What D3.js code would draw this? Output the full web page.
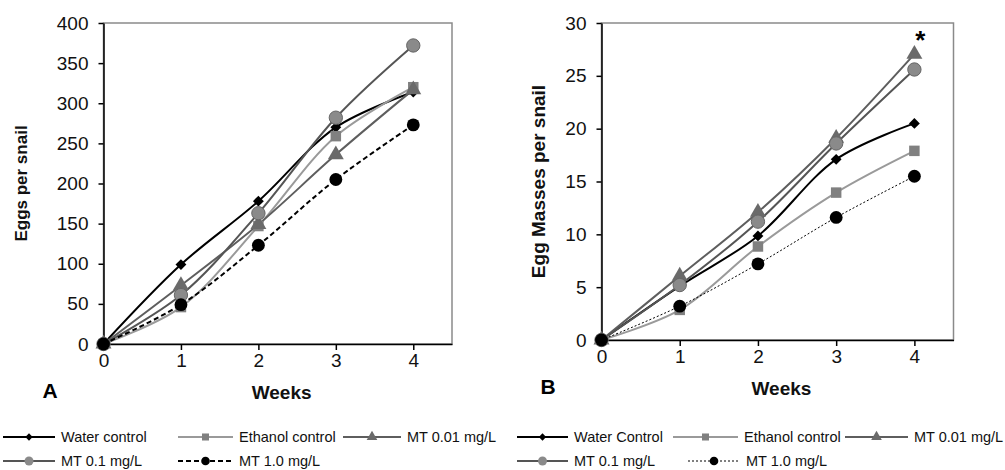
<!DOCTYPE html>
<html>
<head>
<meta charset="utf-8">
<script src="https://cdn.jsdelivr.net/npm/d3@7"></script>
<style>
    body { margin: 0; background: #fff; }
    svg { font-family: "Liberation Sans", Arial, sans-serif; }
    .axis text { font-size: 19px; fill: #111; }
    .axis path, .axis line { stroke: #000; stroke-width: 1.5px; }
    .title { font-weight: bold; fill: #111; }
    .legend text { font-size: 14.5px; fill: #111; }
</style>
</head>
<body>
<div id="chart"></div>
<script>
// data
const weeks = [0, 1, 2, 3, 4];

const eggsWater = [0, 99, 178, 270, 314];
const eggsEthanol = [0, 46, 147, 259, 320];
const eggsMt001 = [0, 73, 149, 236, 317];
const eggsMt01 = [0, 61, 163, 282, 372];
const eggsMt10 = [0, 49, 123, 205, 273];

const massWater = [0, 5.1, 9.85, 17.1, 20.5];
const massEthanol = [0, 2.85, 8.85, 13.95, 17.9];
const massMt001 = [0, 6.05, 12.1, 19.1, 27.05];
const massMt01 = [0, 5.2, 11.2, 18.6, 25.6];
const massMt10 = [0, 3.2, 7.2, 11.6, 15.5];

const yTicksA = [0, 50, 100, 150, 200, 250, 300, 350, 400];
const yTicksB = [0, 5, 10, 15, 20, 25, 30];
const legendA = ["Water control", "Ethanol control", "MT 0.01 mg/L", "MT 0.1 mg/L", "MT 1.0 mg/L"];
const legendB = ["Water Control", "Ethanol control", "MT 0.01 mg/L", "MT 0.1 mg/L", "MT 1.0 mg/L"];

// one style per series, same order in both panels
const styles = [
    { line: "#000", fill: "#000", shape: d3.symbolDiamond2, size: 75 },
    { line: "#9a9a9a", fill: "#808080", shape: d3.symbolSquare, size: 110 },
    { line: "#5e5e5e", fill: "#6a6a6a", shape: d3.symbolTriangle, size: 110 },
    { line: "#555", fill: "#8a8a8a", shape: d3.symbolCircle, size: 140, stroke: "#666" },
    { line: "#000", fill: "#000", shape: d3.symbolCircle, size: 130 }
];

const svg = d3.select("#chart").append("svg")
    .attr("width", 1005)
    .attr("height", 470);

class Panel {
    constructor(_config) {
        this.cfg = _config;
        this.initVis();
    }

    initVis() {
        const vis = this;
        const c = vis.cfg;

        vis.g = svg.append("g").attr("transform", `translate(${c.left},${c.top})`);
        vis.width = c.width;
        vis.height = c.height;

        vis.x = d3.scaleLinear().domain([0, 4.5]).range([0, vis.width]);
        vis.y = d3.scaleLinear().domain([0, c.yMax]).range([vis.height, 0]);

        // plot area border
        vis.g.append("rect")
            .attr("width", vis.width)
            .attr("height", vis.height)
            .attr("fill", "none")
            .attr("stroke", "#8a8a8a")
            .attr("stroke-width", 1.5);

        vis.g.append("g")
            .attr("class", "axis")
            .call(d3.axisLeft(vis.y).tickValues(c.yTicks).tickSize(5).tickSizeOuter(0).tickPadding(10));

        vis.g.append("g")
            .attr("class", "axis")
            .attr("transform", `translate(0,${vis.height})`)
            .call(d3.axisBottom(vis.x).tickValues(weeks).tickFormat(d3.format("d"))
                .tickSize(6).tickSizeOuter(0).tickPadding(4));

        vis.g.append("text")
            .attr("class", "title")
            .attr("text-anchor", "middle")
            .style("font-size", c.yTitleSize + "px")
            .attr("transform", `translate(${c.yTitleX},${vis.height / 2}) rotate(-90)`)
            .text(c.yTitle);

        vis.g.append("text")
            .attr("class", "title")
            .attr("text-anchor", "middle")
            .style("font-size", "19px")
            .attr("x", vis.x(2.3))
            .attr("y", vis.height + 55)
            .text("Weeks");

        vis.g.append("text")
            .attr("x", c.letterX)
            .attr("y", vis.height + 54)
            .style("font-size", "21px")
            .style("font-weight", "bold")
            .text(c.letter);

        vis.updateVis();
    }

    updateVis() {
        const vis = this;
        const c = vis.cfg;

        const line = d3.line()
            .x((d, i) => vis.x(weeks[i]))
            .y(d => vis.y(d))
            .curve(d3.curveCatmullRom.alpha(0.5));

        c.series.forEach((s, k) => {
            const st = styles[k];
            vis.g.append("path")
                .datum(s)
                .attr("fill", "none")
                .attr("stroke", st.line)
                .attr("stroke-width", k === 4 ? c.dashWidth : 2)
                .attr("stroke-dasharray", k === 4 ? c.dash : null)
                .attr("d", line);
        });

        c.series.forEach((s, k) => {
            const st = styles[k];
            vis.g.selectAll(".m" + k)
                .data(s)
                .enter().append("path")
                .attr("class", "m" + k)
                .attr("transform", (d, i) => `translate(${vis.x(weeks[i])},${vis.y(d)})`)
                .attr("d", d3.symbol().type(st.shape).size(st.size))
                .attr("fill", st.fill)
                .attr("stroke", st.stroke || "none")
                .attr("stroke-width", 1);
        });

        if (c.star) {
            vis.g.append("text")
                .attr("x", vis.x(4) + 6)
                .attr("y", vis.y(c.star) - 5)
                .attr("text-anchor", "middle")
                .style("font-size", "26px")
                .style("font-weight", "bold")
                .text("*");
        }

        // legend, two rows
        const lg = svg.append("g").attr("class", "legend");
        c.legendNames.forEach((name, k) => {
            const p = c.legendPos[k];
            const st = styles[k];
            const row = lg.append("g").attr("transform", `translate(${p[0]},${p[1]})`);
            row.append("line")
                .attr("x1", 0).attr("x2", p[2])
                .attr("stroke", st.line)
                .attr("stroke-width", k === 4 ? c.dashWidth : 1.8)
                .attr("stroke-dasharray", k === 4 ? c.dash : null);
            row.append("path")
                .attr("transform", `translate(${p[2] / 2},0)`)
                .attr("d", d3.symbol().type(st.shape).size(st.size * 0.45))
                .attr("fill", st.fill);
            row.append("text")
                .attr("x", p[2] + 6)
                .attr("dy", "0.35em")
                .text(name);
        });
    }
}

new Panel({
    left: 103.5, top: 23, width: 348.5, height: 321,
    yMax: 400, yTicks: yTicksA, yTitle: "Eggs per snail", yTitleX: -77, yTitleSize: 17,
    letter: "A", letterX: -61,
    series: [eggsWater, eggsEthanol, eggsMt001, eggsMt01, eggsMt10],
    dash: "5,3", dashWidth: 2,
    legendNames: legendA,
    legendPos: [[3, 437, 52], [178, 437, 55], [343, 437, 58], [3, 461, 52], [178, 461, 55]]
});

new Panel({
    left: 601.5, top: 23, width: 352, height: 317,
    yMax: 30, yTicks: yTicksB, yTitle: "Egg Masses per snail", yTitleX: -57, yTitleSize: 19,
    letter: "B", letterX: -61,
    series: [massWater, massEthanol, massMt001, massMt01, massMt10],
    dash: "2,2", dashWidth: 1,
    star: 27.05,
    legendNames: legendB,
    legendPos: [[517, 437, 51], [673, 437, 65], [845, 437, 63], [517, 461, 51], [688, 461, 52]]
});
</script>
</body>
</html>
